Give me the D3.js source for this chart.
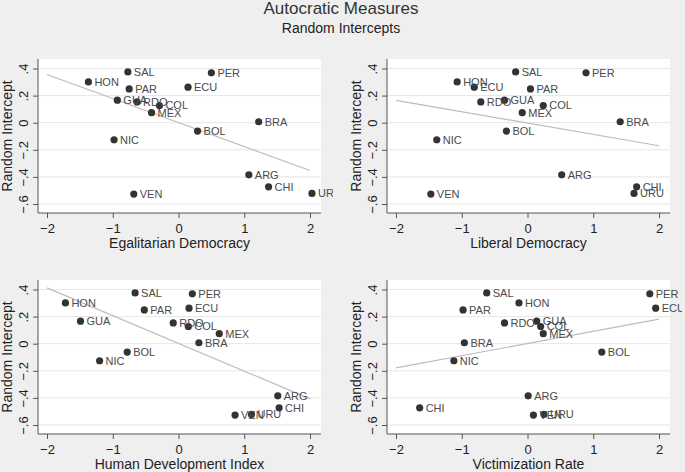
<!DOCTYPE html>
<html>
<head>
<meta charset="utf-8">
<script src="https://cdn.jsdelivr.net/npm/d3@7"></script>
<style>
  body { margin: 0; background: #efefef; }
  svg { display: block; font-family: "Liberation Sans", Arial, sans-serif; }
</style>
</head>
<body>
<svg class="chart"></svg>
<script>
// country random intercepts (y) and the four predictors (x)
const countries = ["ARG", "BOL", "BRA", "CHI", "COL", "ECU", "GUA", "HON", "MEX", "NIC", "PAR", "PER", "RDO", "SAL", "URU", "VEN"];
const intercepts = [-0.385, -0.062, 0.007, -0.473, 0.127, 0.262, 0.166, 0.301, 0.074, -0.126, 0.249, 0.368, 0.153, 0.375, -0.522, -0.527];

const egalitarian = [1.07, 0.29, 1.22, 1.37, -0.29, 0.145, -0.93, -1.37, -0.41, -0.98, -0.75, 0.50, -0.63, -0.77, 2.03, -0.68];
const liberal = [0.52, -0.32, 1.41, 1.66, 0.24, -0.81, -0.35, -1.07, -0.08, -1.38, 0.045, 0.89, -0.71, -0.18, 1.62, -1.47];
const hdi = [1.51, -0.78, 0.31, 1.53, 0.15, 0.16, -1.49, -1.72, 0.62, -1.20, -0.52, 0.21, -0.08, -0.66, 1.11, 0.86];
const victimization = [0.01, 1.13, -0.96, -1.64, 0.20, 1.95, 0.14, -0.13, 0.24, -1.12, -0.98, 1.86, -0.35, -0.62, 0.25, 0.09];

// fitted line values at x = -2 and x = 2
const fitEgalitarian = [0.356, -0.353];
const fitLiberal = [0.165, -0.170];
const fitHdi = [0.412, -0.407];
const fitVictimization = [-0.179, 0.182];

const xTicks = [-2, -1, 0, 1, 2];
const yTicks = [-0.6, -0.4, -0.2, 0, 0.2, 0.4];

const panels = [
    {title: "Egalitarian Democracy", xs: egalitarian, fit: fitEgalitarian, left: 38, bottom: 213},
    {title: "Liberal Democracy", xs: liberal, fit: fitLiberal, left: 387, bottom: 213},
    {title: "Human Development Index", xs: hdi, fit: fitHdi, left: 38, bottom: 434},
    {title: "Victimization Rate", xs: victimization, fit: fitVictimization, left: 387, bottom: 434}
];

const width = 685;
const height = 472;
const plotW = 283;
const plotH = 154;

const svg = d3.select(".chart")
    .attr("width", width)
    .attr("height", height);

svg.append("rect").attr("width", width).attr("height", height).attr("fill", "#efefef");

svg.append("text")
    .attr("x", 341).attr("y", 14)
    .attr("text-anchor", "middle")
    .attr("font-size", 17)
    .attr("fill", "#333")
    .text("Autocratic Measures");

svg.append("text")
    .attr("x", 341).attr("y", 33)
    .attr("text-anchor", "middle")
    .attr("font-size", 14)
    .attr("fill", "#222")
    .text("Random Intercepts");

const yFmt = d => d === 0 ? "0" : d3.format(".1f")(d).replace("0.", ".");

panels.forEach((p, i) => {
    const g = svg.append("g")
        .attr("transform", `translate(${p.left}, ${p.bottom - plotH})`);

    g.append("clipPath").attr("id", "clip" + i)
        .append("rect").attr("x", -38).attr("y", -20).attr("width", 333).attr("height", plotH + 60);

    const x = d3.scaleLinear().domain([-2, 2]).range([9, 272]);
    const y = d3.scaleLinear().domain([-0.6, 0.4]).range([plotH - 9, plotH - 144.5]);

    g.append("rect")
        .attr("width", plotW).attr("height", plotH)
        .attr("fill", "#fff");

    g.selectAll(".grid")
        .data(yTicks)
        .enter().append("line")
        .attr("x1", 0).attr("x2", plotW)
        .attr("y1", d => y(d)).attr("y2", d => y(d))
        .attr("stroke", "#e6e6e6");

    const xAxis = g.append("g")
        .attr("transform", `translate(0, ${plotH})`)
        .call(d3.axisBottom(x).tickValues(xTicks).tickSize(5).tickSizeOuter(0).tickFormat(d3.format("d")));
    xAxis.select(".domain").remove();
    xAxis.selectAll("line").attr("stroke", "#555");
    xAxis.selectAll("text")
        .attr("y", 20).attr("dy", 0)
        .attr("font-size", 13)
        .attr("font-family", "Liberation Sans, Arial, sans-serif")
        .attr("fill", "#222");

    const yAxis = g.append("g")
        .call(d3.axisLeft(y).tickValues(yTicks).tickSize(5).tickSizeOuter(0).tickFormat(yFmt));
    yAxis.select(".domain").remove();
    yAxis.selectAll("line").attr("stroke", "#555");
    yAxis.selectAll("text")
        .attr("x", 0).attr("dy", 0)
        .attr("transform", "translate(-10, 0) rotate(-90)")
        .attr("text-anchor", "middle")
        .attr("font-size", 13)
        .attr("font-family", "Liberation Sans, Arial, sans-serif")
        .attr("fill", "#222");

    g.append("line")
        .attr("x1", 0).attr("x2", plotW)
        .attr("y1", plotH).attr("y2", plotH)
        .attr("stroke", "#555");
    g.append("line")
        .attr("x1", 0).attr("x2", 0)
        .attr("y1", 0).attr("y2", plotH)
        .attr("stroke", "#555");

    g.append("text")
        .attr("x", plotW / 2).attr("y", plotH + 35)
        .attr("text-anchor", "middle")
        .attr("font-size", 14)
        .attr("fill", "#222")
        .text(p.title);

    g.append("text")
        .attr("transform", `translate(-26, ${plotH / 2}) rotate(-90)`)
        .attr("text-anchor", "middle")
        .attr("font-size", 14)
        .attr("fill", "#222")
        .text("Random Intercept");

    g.append("line")
        .attr("x1", x(-2)).attr("y1", y(p.fit[0]))
        .attr("x2", x(2)).attr("y2", y(p.fit[1]))
        .attr("stroke", "#bdbdbd")
        .attr("stroke-width", 1.2);

    const pts = countries.map((c, j) => ({name: c, x: p.xs[j], y: intercepts[j]}));

    const marks = g.append("g").attr("clip-path", `url(#clip${i})`);

    marks.selectAll("circle")
        .data(pts)
        .enter().append("circle")
        .attr("cx", d => x(d.x))
        .attr("cy", d => y(d.y))
        .attr("r", 3.6)
        .attr("fill", "#333");

    marks.selectAll(".lbl")
        .data(pts)
        .enter().append("text")
        .attr("class", "lbl")
        .attr("x", d => x(d.x) + 6)
        .attr("y", d => y(d.y))
        .attr("dy", "0.36em")
        .attr("font-size", 11)
        .attr("fill", "#4a4a4a")
        .text(d => d.name);
});
</script>
</body>
</html>
